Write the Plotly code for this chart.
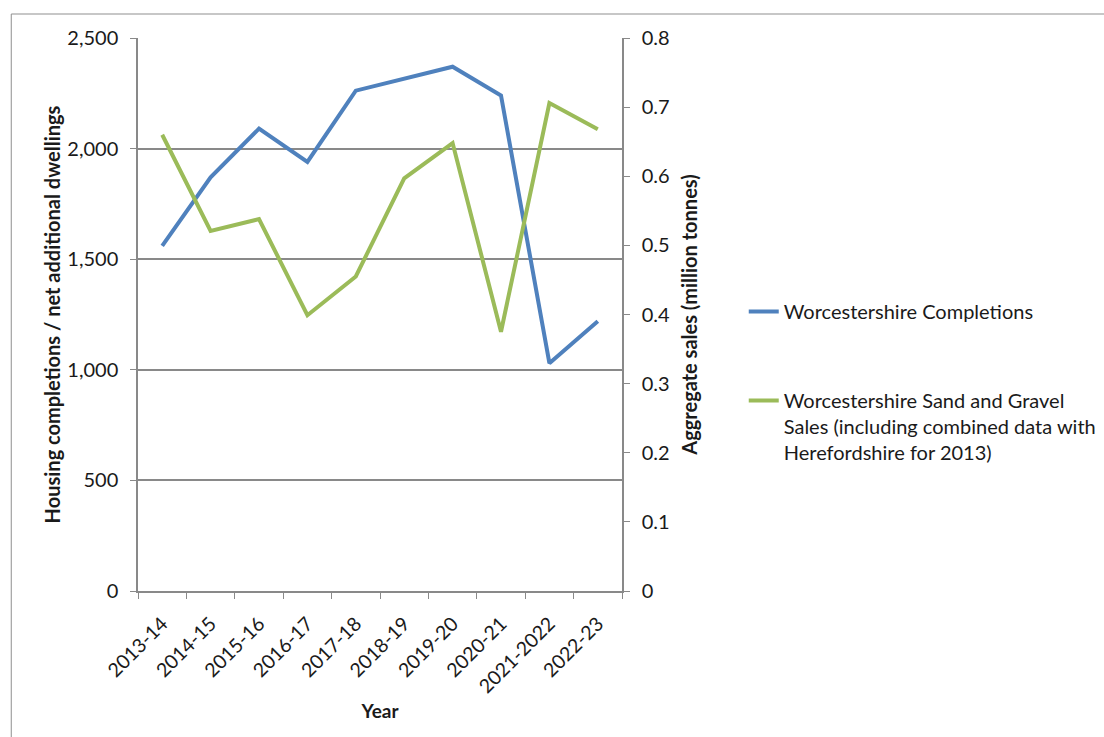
import plotly.graph_objects as go

# Financial years on the category axis
years = ["2013-14", "2014-15", "2015-16", "2016-17", "2017-18",
         "2018-19", "2019-20", "2020-21", "2021-2022", "2022-23"]

# Housing completions / net additional dwellings (left axis)
completions = [1560, 1870, 2090, 1940, 2262, 2318, 2370, 2240, 1030, 1220]

# Sand and gravel sales, million tonnes (right axis)
sand_gravel = [0.660, 0.521, 0.538, 0.399, 0.455, 0.597, 0.648, 0.375, 0.706, 0.668]

left_ticks = [0, 500, 1000, 1500, 2000, 2500]
left_tick_text = ["0", "500", "1,000", "1,500", "2,000", "2,500"]
right_ticks = [0, 0.1, 0.2, 0.3, 0.4, 0.5, 0.6, 0.7, 0.8]
right_tick_text = ["0", "0.1", "0.2", "0.3", "0.4", "0.5", "0.6", "0.7", "0.8"]

BLUE = "#4F81BD"
GREEN = "#9BBB59"
GRID = "#898989"
TEXT = "#1a1a1a"
FONT = "Lato"

fig = go.Figure()
fig.add_trace(go.Scatter(
    x=years, y=completions, mode="lines", name="Worcestershire Completions",
    line=dict(color=BLUE, width=4), legendgroup="a", yaxis="y",
))
fig.add_trace(go.Scatter(
    x=years, y=sand_gravel, mode="lines",
    name="Worcestershire Sand and Gravel<br>Sales (including combined data with<br>Herefordshire for 2013)",
    line=dict(color=GREEN, width=4), legendgroup="b", yaxis="y2",
))

# Outer chart frame
fig.add_shape(type="rect", xref="paper", yref="paper",
              x0=(11 - 138) / 485, x1=(1130 - 138) / 485,
              y0=(591 - 760) / 553, y1=(591 - 14) / 553,
              line=dict(color="#8f8f8f", width=1), fillcolor="rgba(0,0,0,0)",
              layer="below")

fig.update_layout(
    width=1104, height=737,
    margin=dict(l=138, r=482, t=38, b=146, autoexpand=False),
    paper_bgcolor="white", plot_bgcolor="white",
    font=dict(family=FONT, size=20, color=TEXT),
    showlegend=True,
    legend=dict(
        x=(745 - 138) / 485, xanchor="left",
        y=(591 - 292) / 553, yanchor="top",
        traceorder="grouped", tracegroupgap=60, valign="top",
        font=dict(family=FONT, size=20, color=TEXT),
        bgcolor="rgba(0,0,0,0)", borderwidth=0,
    ),
    xaxis=dict(
        type="category", range=[-0.5, len(years) - 0.5],
        tickangle=-45, tickson="boundaries",
        ticks="outside", ticklen=6, tickcolor=GRID, ticklabelstandoff=12,
        showline=True, linecolor=GRID, linewidth=1.5,
        showgrid=False, zeroline=False,
        tickfont=dict(family=FONT, size=19.5, color=TEXT),
        title=dict(text="<b>Year</b>", font=dict(family=FONT, size=19, color=TEXT), standoff=8),
    ),
    yaxis=dict(
        range=[0, 2500], tickvals=left_ticks, ticktext=left_tick_text,
        ticks="outside", ticklen=6, tickcolor=GRID, ticklabelstandoff=8,
        showline=True, linecolor=GRID, linewidth=1.5,
        showgrid=True, gridcolor=GRID, gridwidth=1.5, zeroline=False,
        tickfont=dict(family=FONT, size=20, color=TEXT),
        title=dict(text="<b>Housing completions / net additional dwellings</b>",
                   font=dict(family=FONT, size=20, color=TEXT), standoff=1),
    ),
    yaxis2=dict(
        range=[0, 0.8], tickvals=right_ticks, ticktext=right_tick_text,
        overlaying="y", side="right",
        ticks="outside", ticklen=6, tickcolor=GRID, ticklabelstandoff=8,
        showline=True, linecolor=GRID, linewidth=1.5,
        showgrid=False, zeroline=False,
        tickfont=dict(family=FONT, size=20, color=TEXT),
        title=dict(text="<b>Aggregate sales (million tonnes)</b>",
                   font=dict(family=FONT, size=20, color=TEXT), standoff=14),
    ),
)

fig.write_html("out.html")
